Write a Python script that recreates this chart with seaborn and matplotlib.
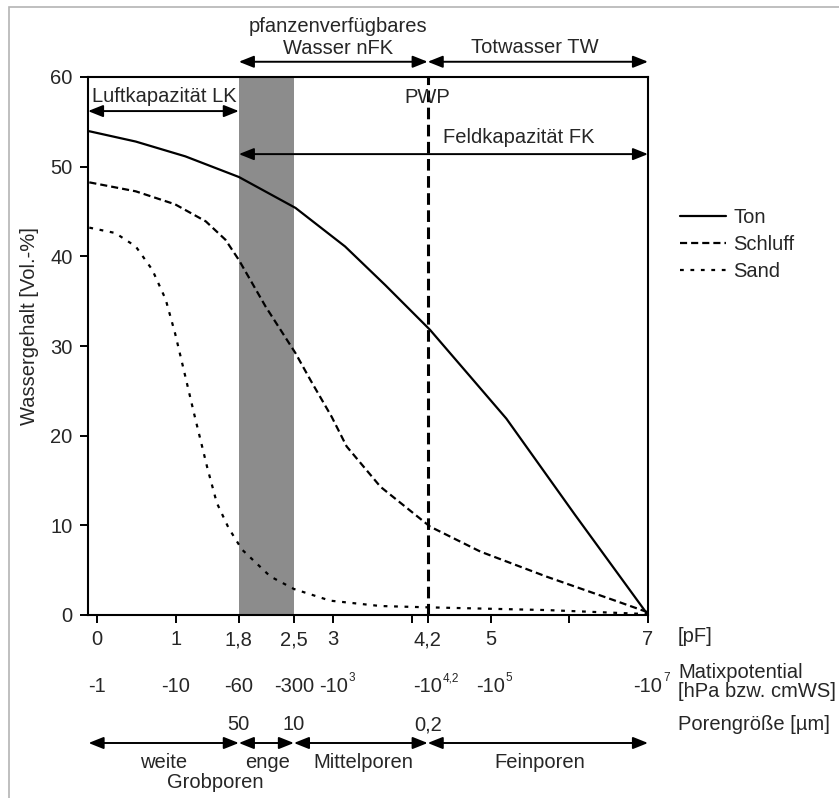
import numpy as np
import pandas as pd
import seaborn as sns
import matplotlib
matplotlib.use('Agg')
import matplotlib.pyplot as plt
from matplotlib.patches import Rectangle, ArrowStyle
from matplotlib.transforms import blended_transform_factory

# pF-Werte und Wassergehalt [Vol.-%]
pf_ton = [-0.1, 0.49, 1.12, 1.8, 2.52, 3.15, 3.66, 4.23, 4.74, 5.2, 6.07, 7.0]
wg_ton = [53.95, 52.8, 51.15, 48.85, 45.4, 41.1, 36.8, 31.8, 26.6, 21.9, 11.2, 0.0]

pf_schluff = [-0.1, 0.49, 0.99, 1.38, 1.63, 1.8, 2.14, 2.52, 2.71, 2.98, 3.17, 3.6, 4.23, 4.87, 5.71, 6.56, 7.0]
wg_schluff = [48.25, 47.25, 45.8, 43.9, 41.85, 39.6, 34.4, 29.2, 26.2, 22.1, 18.8, 14.3, 9.86, 7.07, 4.28, 1.67, 0.3]

pf_sand = [-0.1, 0.23, 0.49, 0.7, 0.87, 0.99, 1.12, 1.23, 1.40, 1.52, 1.67, 1.84, 2.2, 2.5, 2.96, 3.6, 4.23, 5.71, 7.0]
wg_sand = [43.2, 42.6, 41.1, 38.5, 35.2, 31.4, 26.6, 22.5, 16.4, 12.5, 9.7, 7.3, 4.3, 2.9, 1.6, 1.0, 0.85, 0.55, 0.1]

pf_ticks = [0, 1, 1.8, 2.5, 3, 4, 4.2, 5, 6, 7]
pf_labels = ['0', '1', '1,8', '2,5', '3', '', '4,2', '5', '', '7']

matrix_pos = [0, 1, 1.8, 2.5, 3, 4.2, 5, 7]
matrix_base = ['-1', '-10', '-60', '-300', '-10', '-10', '-10', '-10']
matrix_exp = ['', '', '', '', '3', '4,2', '5', '7']

poren_pos = [1.8, 2.5, 4.2]
poren_labels = ['50', '10', '0,2']

band = (1.8, 2.5)
pwp = 4.2

W, H = 839, 798
FS = 14.5

sns.set_style('ticks')
plt.rcParams['font.family'] = ['Liberation Sans', 'DejaVu Sans']
plt.rcParams['font.size'] = FS

fig = plt.figure(figsize=(W / 100, H / 100), dpi=100)
ax = fig.add_axes([88 / W, 1 - 615 / H, 560 / W, 538 / H])

ax.axvspan(band[0], band[1], color='#8c8c8c', lw=0, zorder=0)

sns.lineplot(x=pf_ton, y=wg_ton, ax=ax, color='black', lw=1.6, label='Ton')
sns.lineplot(x=pf_schluff, y=wg_schluff, ax=ax, color='black', lw=1.6, label='Schluff',
             linestyle=(0, (3.2, 1.8)))
sns.lineplot(x=pf_sand, y=wg_sand, ax=ax, color='black', lw=1.6, label='Sand',
             linestyle=(0, (1.7, 3.0)))

ax.plot([pwp, pwp], [0, 60], color='black', lw=2.2, linestyle=(0, (3.8, 1.8)), zorder=3)

ax.set_xlim(-0.117, 7.0)
ax.set_ylim(0, 60)
ax.set_xticks(pf_ticks)
ax.set_xticklabels(pf_labels)
ax.set_yticks(range(0, 61, 10))
ax.tick_params(direction='out', length=6, width=1.4, color='black', labelsize=FS, pad=5)
for s in ax.spines.values():
    s.set_color('black')
    s.set_linewidth(1.5)
ax.set_xlabel('')
ax.set_ylabel('')

fig.text(30 / W, 1 - 326 / H, 'Wassergehalt [Vol.-%]', rotation=90, ha='center', va='center', fontsize=FS)

arr = ArrowStyle('<|-|>', head_length=0.5, head_width=0.2)
def dbl_arrow(x0, x1, y, coords):
    ax.annotate('', xy=(x1, y), xytext=(x0, y), xycoords=coords, textcoords=coords,
                arrowprops=dict(arrowstyle=arr, color='black', lw=1.4, shrinkA=0, shrinkB=0,
                                mutation_scale=18),
                annotation_clip=False)

# Pfeile im und über dem Diagramm
dbl_arrow(-0.117, 1.8, 56.2, 'data')
dbl_arrow(1.8, 7.0, 51.4, 'data')
dbl_arrow(1.8, pwp, 61.7, 'data')
dbl_arrow(pwp, 7.0, 61.7, 'data')

ax.text(-0.06, 57.8, 'Luftkapazität LK', ha='left', va='center', fontsize=FS)
ax.text(pwp, 57.7, 'PWP', ha='center', va='center', fontsize=FS)
ax.text(4.40, 53.2, 'Feldkapazität FK', ha='left', va='center', fontsize=FS)
ax.text(3.06, 64.4, 'pfanzenverfügbares\nWasser nFK', ha='center', va='center', fontsize=FS,
        linespacing=1.15, clip_on=False)
ax.text(5.56, 63.3, 'Totwasser TW', ha='center', va='center', fontsize=FS, clip_on=False)

# Zeilen unter der Achse
tr = blended_transform_factory(ax.transData, fig.transFigure)
def fy(py):
    return 1 - py / H

for x, base, exp in zip(matrix_pos, matrix_base, matrix_exp):
    t = ax.text(x, fy(686), base, transform=tr, ha='center', va='center', fontsize=FS)
    if exp:
        ax.annotate(exp, xy=(1, 0.92), xycoords=t, xytext=(0.5, 0), textcoords='offset points',
                    ha='left', va='center', fontsize=8.5)
for x, lab in zip(poren_pos, poren_labels):
    ax.text(x, fy(725), lab, transform=tr, ha='center', va='center', fontsize=FS)

dbl_arrow(-0.11, 1.8, fy(743), tr)
dbl_arrow(1.8, 2.5, fy(743), tr)
dbl_arrow(2.5, pwp, fy(743), tr)
dbl_arrow(pwp, 7.0, fy(743), tr)

ax.text(0.84, fy(762), 'weite', transform=tr, ha='center', va='center', fontsize=FS)
ax.text(1.5, fy(783), 'Grobporen', transform=tr, ha='center', va='center', fontsize=FS)
ax.text(2.16, fy(762), 'enge', transform=tr, ha='center', va='center', fontsize=FS)
ax.text(3.38, fy(762), 'Mittelporen', transform=tr, ha='center', va='center', fontsize=FS)
ax.text(5.62, fy(762), 'Feinporen', transform=tr, ha='center', va='center', fontsize=FS)

fig.text(678 / W, fy(637), '[pF]', ha='left', va='center', fontsize=FS)
fig.text(678 / W, fy(682), 'Matixpotential\n[hPa bzw. cmWS]', ha='left', va='center', fontsize=FS,
         linespacing=1.05)
fig.text(678 / W, fy(725), 'Porengröße [µm]', ha='left', va='center', fontsize=FS)

ax.legend(loc='upper left', bbox_to_anchor=(680 / W, fy(208)), bbox_transform=fig.transFigure,
          frameon=False, borderaxespad=0, borderpad=0, handlelength=2.3, handletextpad=0.35,
          labelspacing=0.4, fontsize=FS)

fig.add_artist(Rectangle((9 / W, -0.5), 1.5, fy(7) + 0.5, transform=fig.transFigure,
                         fill=False, edgecolor='#b4b4b4', lw=1.2))

fig.savefig('out.png', dpi=100)
